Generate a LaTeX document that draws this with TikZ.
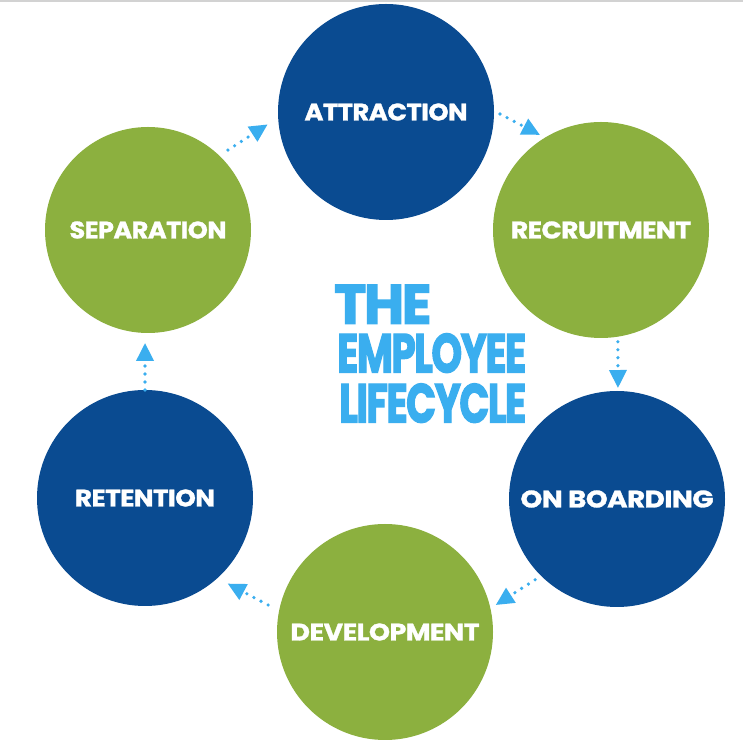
\documentclass[tikz,border=0pt]{standalone}
\usepackage{fontspec}
\setmainfont{Poppins}
\newfontfamily\heavyfont{Poppins}[FakeBold=2.5, LetterSpace=-4]
\newfontfamily\labelfont{Poppins}[FakeBold=1.2, LetterSpace=-2]
\usepackage{graphicx}
\usetikzlibrary{calc,arrows.meta}
\definecolor{dblue}{HTML}{0A4B91}
\definecolor{lgreen}{HTML}{8CB03F}
\definecolor{sky}{HTML}{3AAEEF}
\tikzset{
 stage/.style={circle, minimum size=216pt, inner sep=0pt, draw=none, text=white, font=\labelfont\bfseries},
 bluestage/.style={stage, fill=dblue},
 greenstage/.style={stage, fill=lgreen},
 ttl/.style={text=sky, inner sep=0pt, anchor=south west, font=\heavyfont\bfseries},
 flow/.style={sky, line width=3.6pt, line cap=round, dash pattern=on 0pt off 8pt, -{Triangle[length=18pt,width=17pt]}}
}
\begin{document}
\begin{tikzpicture}[x=1pt,y=1pt]
\useasboundingbox (0,0) rectangle (743,744);
\fill[white] (0,0) rectangle (743,744);
\fill[gray!35] (0,742.3) rectangle (743,744);
% stages
\node[bluestage] (att) at (386,632) {\resizebox{163pt}{17pt}{ATTRACTION}};
\node[greenstage] (rec) at (601,514) {\resizebox{180pt}{17pt}{RECRUITMENT}};
\node[bluestage] (onb) at (617,245) {\resizebox{193pt}{17pt}{ON BOARDING}};
\node[greenstage] (dev) at (385,112) {\resizebox{189pt}{17pt}{DEVELOPMENT}};
\node[bluestage] (ret) at (145,246) {\resizebox{140pt}{17pt}{RETENTION}};
\node[greenstage, minimum size=206pt] (sep) at (148,514) {\resizebox{157pt}{17pt}{SEPARATION}};
% title
\node[ttl] (t1) at (334,420) {\resizebox{97pt}{39pt}{THE}};
\node[ttl] (t2) at (337,371) {\resizebox{189pt}{39pt}{EMPLOYEE}};
\node[ttl] (t3) at (339,321) {\resizebox{187pt}{39pt}{LIFECYCLE}};
% flow arrows
\draw[flow] ($(sep)+(45:113)$) -- ($(att)+(186:119)$);
\draw[flow] ($(att)+(-1:114)$) -- ($(rec)+(122.7:113)$);
\draw[flow] ($(rec)+(-81.4:113)$) -- ($(onb)+(89.5:111)$);
\draw[flow] ($(onb)+(224.6:115)$) -- ($(dev)+(13.7:114)$);
\draw[flow] ($(dev)+(167:120)$) -- ($(ret)+(-46:119)$);
\draw[flow] ($(ret)+(90:108)$) -- ($(sep)+(-91.5:113)$);
\end{tikzpicture}
\end{document}
